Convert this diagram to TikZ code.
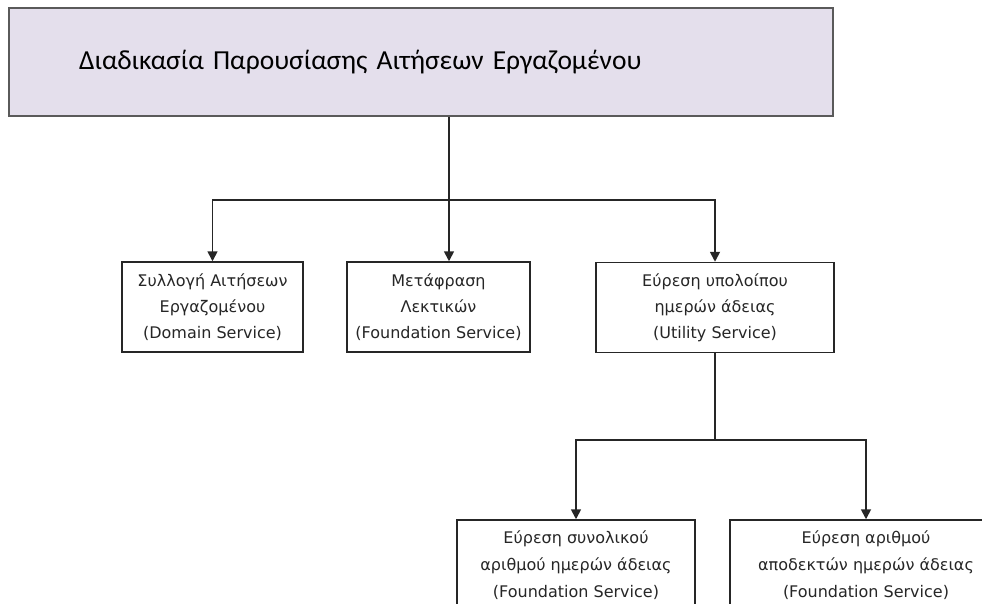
\documentclass[tikz,border=0pt]{standalone}
\usepackage{fontspec}
\setmainfont{DejaVu Sans}
\newfontfamily\titlefont{Carlito}
\usetikzlibrary{arrows.meta,positioning,calc}
\definecolor{lavender}{HTML}{E4DFEC}
\definecolor{boxedge}{HTML}{5A5A5A}
\definecolor{inkdark}{HTML}{262626}
\tikzset{
  procbox/.style={draw=boxedge, fill=lavender, line width=2pt,
    minimum height=108pt, text width=684pt, inner xsep=70pt, align=left,
    font=\titlefont\fontsize{27.5}{32}\selectfont, text=black},
  svcbox/.style={draw=inkdark, fill=white, line width=1.5pt,
    minimum height=90pt, inner sep=0pt, align=center,
    font=\fontsize{16}{26}\selectfont, text=inkdark},
  lowbox/.style={svcbox, minimum height=90pt, font=\fontsize{16}{27}\selectfont},
  link/.style={line width=1.7pt, color=inkdark},
  flow/.style={link, -{Triangle[length=10pt,width=10pt]}},
}
\begin{document}
\begin{tikzpicture}[x=1pt,y=-1pt]
  \useasboundingbox (0,0) rectangle (982,603);
  \clip (0,0) rectangle (982,603);
  \node[procbox] (proc) at (421,62) {Διαδικασία Παρουσίασης Αιτήσεων Εργαζομένου};
  % first level
  \node[svcbox, minimum width=181pt] (collect) at (212.5,307) {Συλλογή Αιτήσεων\\Εργαζομένου\\(Domain Service)};
  \node[svcbox, minimum width=183pt] (transl) at (438.5,307) {Μετάφραση\\Λεκτικών\\(Foundation Service)};
  \node[svcbox, minimum width=238pt] (remain) at (715,307.5) {Εύρεση υπολοίπου\\ημερών άδειας\\(Utility Service)};
  % second level
  \node[lowbox, minimum width=238pt] (total) at (576,565) {Εύρεση συνολικού\\αριθμού ημερών άδειας\\(Foundation Service)};
  \node[lowbox, minimum width=272pt] (accepted) at (866,565) {Εύρεση αριθμού\\αποδεκτών ημερών άδειας\\(Foundation Service)};
  % connectors
  \coordinate (split) at (449,200);
  \draw[link] (proc.south -| split) -- (split);
  \draw[flow] (split) -| (collect.north);
  \draw[flow] (split) -- (split |- transl.north);
  \draw[flow] (split) -| (remain.north);
  \coordinate (split2) at (remain.south |- 0,440);
  \draw[link] (remain.south) -- (split2);
  \draw[flow] (split2) -| (total.north);
  \draw[flow] (split2) -| (accepted.north);
\end{tikzpicture}
\end{document}
